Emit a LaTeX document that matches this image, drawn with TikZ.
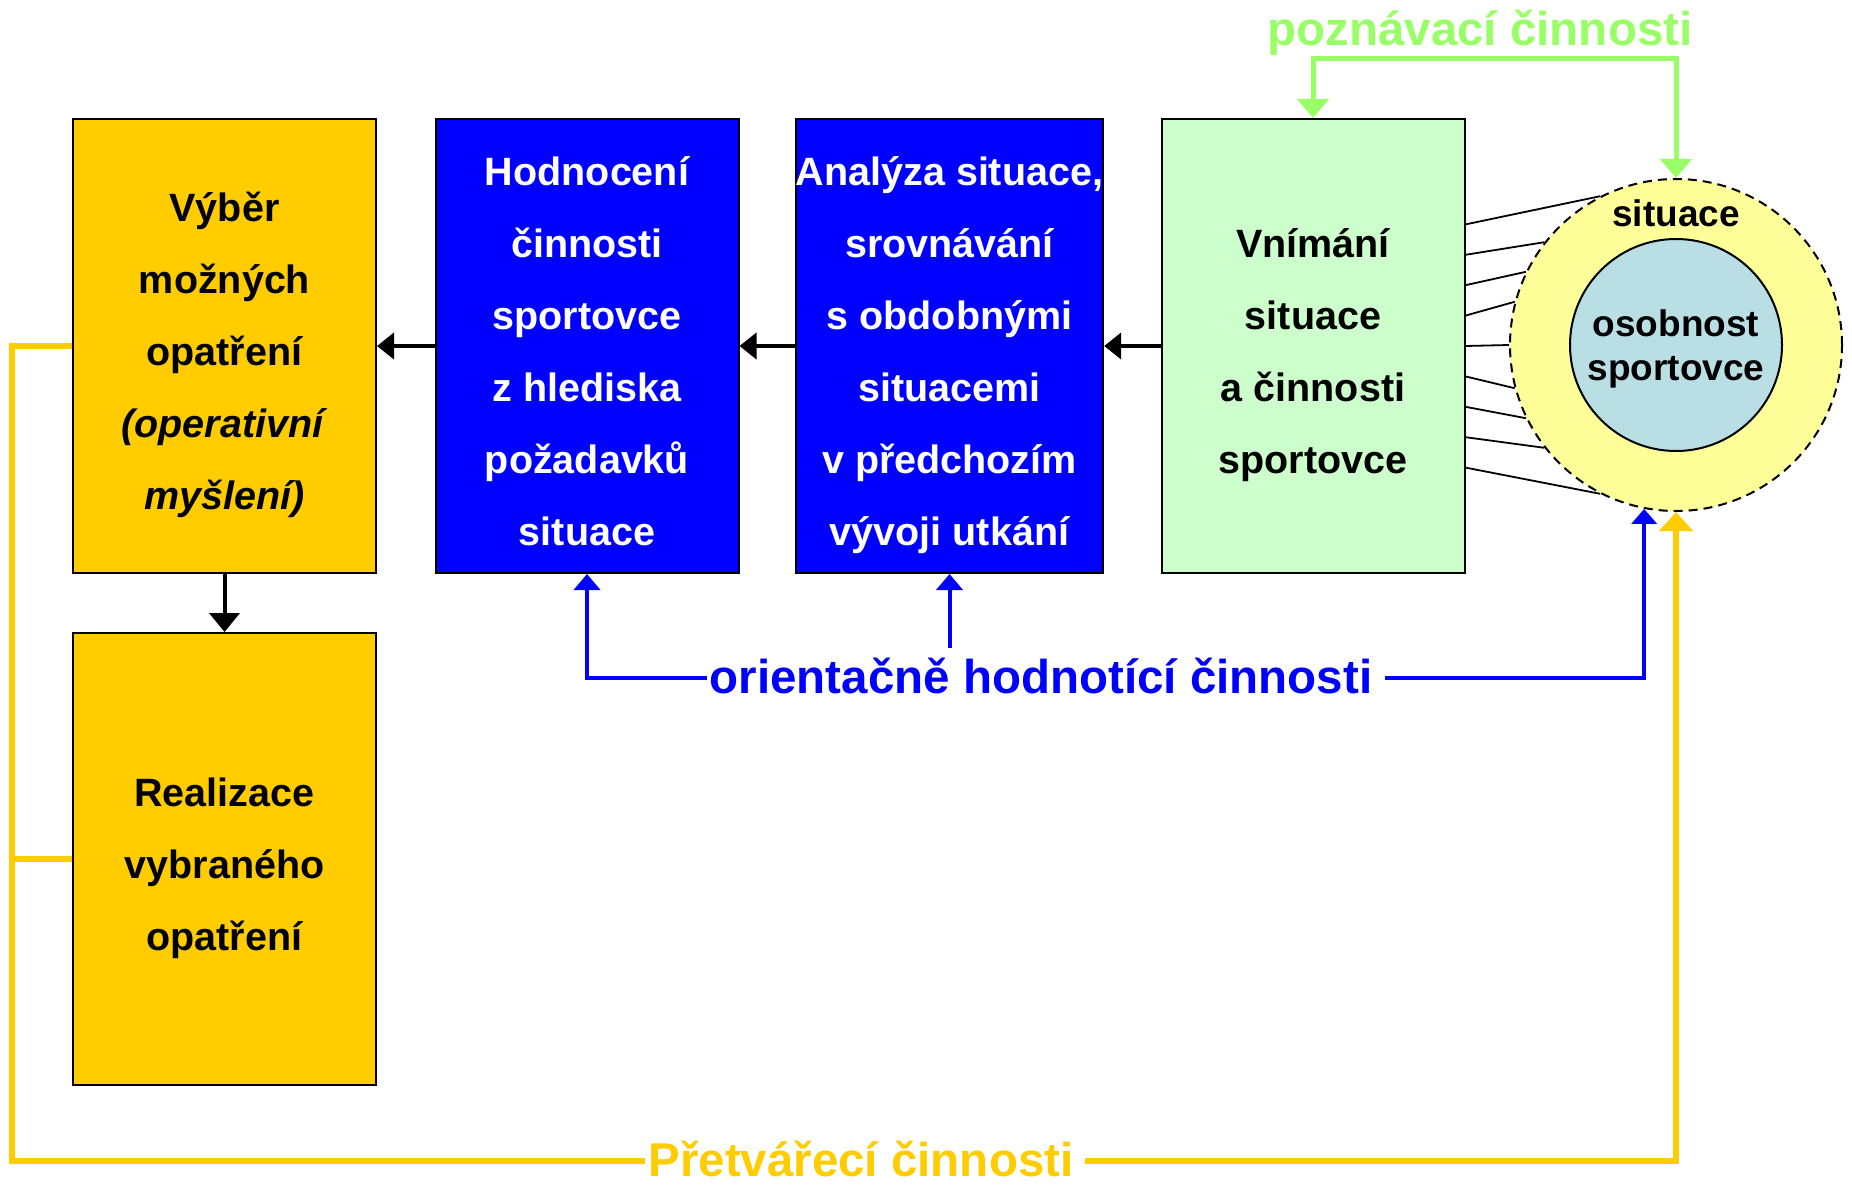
\documentclass[tikz,border=0pt]{standalone}
\usepackage{fontspec}
\setmainfont{Liberation Sans}
\usetikzlibrary{calc,arrows.meta}

\definecolor{optyellow}{HTML}{FFCC00}
\definecolor{evalblue}{HTML}{0000FF}
\definecolor{percgreen}{HTML}{CCFFCC}
\definecolor{cogngreen}{HTML}{99FF66}
\definecolor{sityellow}{HTML}{FFFF99}
\definecolor{persblue}{HTML}{B9DFE4}
\def\firstln{\rule{0pt}{46.5pt}}
\def\lastln{\rule[-8.5pt]{0pt}{8.5pt}}

\tikzset{
	stagebox/.style={draw=black, line width=2pt, minimum width=303pt, minimum height=454pt,
		inner sep=0pt, align=center, font=\fontsize{39.5}{72}\selectfont\bfseries},
	flow/.style={line width=4pt, -{Triangle[width=26pt,length=17pt]}},
	cogline/.style={draw=cogngreen, line width=5pt},
	evalline/.style={draw=evalblue, line width=4pt},
	buildline/.style={draw=optyellow, line width=5.5pt},
	biglabel/.style={inner sep=3pt, font=\fontsize{47.5}{57}\selectfont\bfseries},
	fanline/.style={line width=1.8pt}
}

\begin{document}
\begin{tikzpicture}[x=1pt, y=-1pt]
		%%%%% START %%%%%
		\useasboundingbox (0, 0) rectangle (1852, 1185);
		
		\node[stagebox, fill=optyellow] (choose) at (224.5, 346) {\firstln Výběr\\možných\\opatření\\\textit{(operativní}\\\textit{myšlení)}\lastln};
		\node[stagebox, fill=evalblue, text=white] (judge) at (587, 346) {\firstln Hodnocení\\činnosti\\sportovce\\z hlediska\\požadavků\\situace\lastln};
		\node[stagebox, fill=evalblue, text=white] (analysis) at (949.5, 346) {\firstln Analýza situace,\\srovnávání\\s obdobnými\\situacemi\\v předchozím\\vývoji utkání\lastln};
		\node[stagebox, fill=percgreen] (percep) at (1313, 346) {\firstln Vnímání\\situace\\a činnosti\\sportovce\lastln};
		\node[stagebox, fill=optyellow, minimum height=452pt] (realize) at (224.5, 859) {\firstln Realizace\\vybraného\\opatření\lastln};
		
		% situace a osobnost
		\node[circle, draw=black, dash pattern=on 9pt off 6pt, line width=2pt, fill=sityellow, minimum size=332pt] (sit) at (1676, 345) {};
		\node[circle, draw=black, line width=2pt, fill=persblue, minimum size=212pt, align=center,
			font=\fontsize{37}{44}\selectfont\bfseries] (pers) at (1676, 345) {\rule{0pt}{35pt}osobnost\\sportovce};
		\node[font=\fontsize{37}{44}\selectfont\bfseries] (sitlbl) at (1676, 213) {situace};
		
		\foreach \k/\a in {-4/117, -3/142, -2/154, -1/165, 0/180, 1/195, 2/206, 3/218, 4/243}
			\draw[fanline] ($(percep.east)+(0, \k*30.4)$) -- (sit.\a);
		
		\draw[flow] (percep.west) -- (analysis.east);
		\draw[flow] (analysis.west) -- (judge.east);
		\draw[flow] (judge.west) -- (choose.east);
		\draw[flow, -{Triangle[width=30pt,length=19pt]}] (choose.south) -- (realize.north);
		
		% poznavaci cinnosti
		\node[biglabel, text=cogngreen] (coglbl) at (1480, 33) {poznávací činnosti};
		\coordinate (cogtop) at (1493, 59);
		\draw[cogline, {Triangle[width=31pt,length=19pt]}-{Triangle[width=31pt,length=19pt]}] (percep.north) |- (cogtop) -| (sit.north);
		
		% orientacne hodnotici cinnosti
		\node[biglabel, text=evalblue] (evallbl) at (1041, 676) {orientačně hodnotící činnosti};
		\coordinate (evalcorner) at (judge.south |- 0, 678);
		\draw[evalline, -{Triangle[width=26pt,length=16pt]}] (evallbl.west |- evalcorner) -- (evalcorner) -- (judge.south);
		\draw[evalline, -{Triangle[width=26pt,length=16pt]}] (analysis.south |- 0, 648) -- (analysis.south);
		\draw[evalline, -{Triangle[width=25pt,length=15pt]}] (evallbl.east |- evalcorner) ++(10, 0) -| (sit.259);
		
		% pretvareci cinnosti
		\node[biglabel, text=optyellow] (buildlbl) at (861, 1159) {Přetvářecí činnosti};
		\coordinate (buildcorner) at (12, 1161);
		\draw[buildline] (choose.west) -| (buildcorner) -- (buildlbl.west |- buildcorner);
		\draw[buildline] (realize.west) -- (realize.west -| buildcorner);
		\draw[buildline, -{Triangle[width=33pt,length=19pt]}] (buildlbl.east |- buildcorner) ++(8, 0) -| (sit.south);
		
		%%%%% END %%%%%
	\end{tikzpicture}
\end{document}
